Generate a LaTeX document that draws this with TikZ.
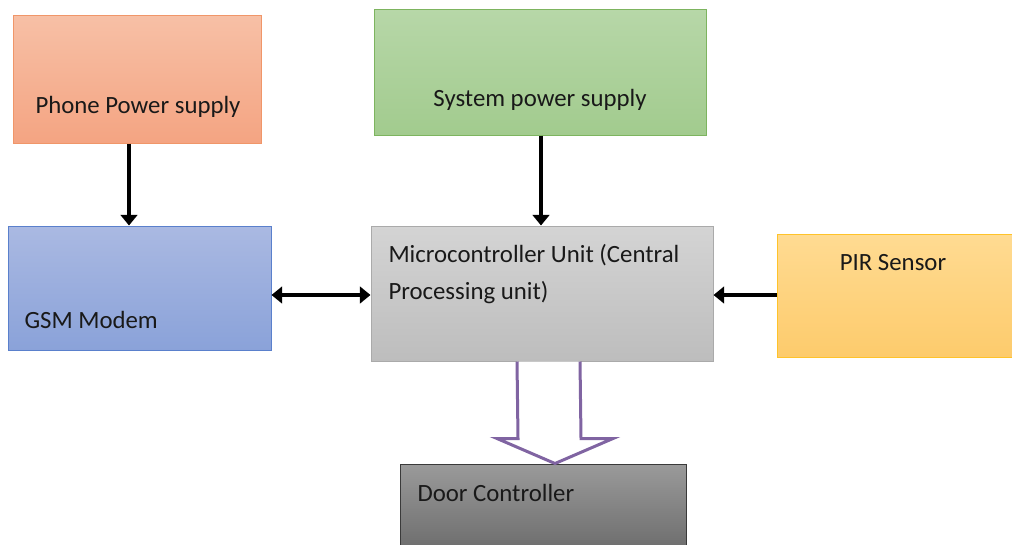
\documentclass[tikz,border=0pt]{standalone}
\usepackage{fontspec}
\setmainfont{Carlito}
\usetikzlibrary{arrows.meta,calc}

\definecolor{phoneTop}{RGB}{247,192,166}
\definecolor{phoneBot}{RGB}{244,164,130}
\definecolor{phoneLine}{RGB}{240,150,105}
\definecolor{sysTop}{RGB}{183,215,168}
\definecolor{sysBot}{RGB}{162,203,142}
\definecolor{sysLine}{RGB}{125,180,95}
\definecolor{gsmTop}{RGB}{170,185,226}
\definecolor{gsmBot}{RGB}{138,162,217}
\definecolor{gsmLine}{RGB}{90,128,204}
\definecolor{mcuTop}{RGB}{212,212,212}
\definecolor{mcuBot}{RGB}{189,189,189}
\definecolor{mcuLine}{RGB}{170,170,170}
\definecolor{pirTop}{RGB}{255,219,146}
\definecolor{pirBot}{RGB}{253,203,108}
\definecolor{pirLine}{RGB}{255,195,42}
\definecolor{doorTop}{RGB}{154,154,154}
\definecolor{doorBot}{RGB}{108,108,108}
\definecolor{doorLine}{RGB}{58,58,58}
\definecolor{outArrow}{RGB}{128,100,162}

\tikzset{every picture/.style={line width=0.75pt}}
\tikzset{
    blockbox/.style={draw, rectangle, inner sep=0pt},
    blocktext/.style={inner sep=0.75pt, text=black!90, font=\fontsize{18.6}{27.75}\selectfont, align=left},
    flowarrow/.style={line width=3pt, -{Triangle[length=8pt,width=12.5pt]}},
    bothways/.style={line width=3pt, {Triangle[length=8pt,width=12.5pt]}-{Triangle[length=8pt,width=12.5pt]}}
}

\begin{document}
\begin{tikzpicture}[x=0.75pt,y=0.75pt,yscale=-1,xscale=1]
        \useasboundingbox (0,0) rectangle (1012,544);

        %Blocks
        \node [blockbox, top color=phoneTop, bottom color=phoneBot, draw=phoneLine, minimum width=186pt, minimum height=96pt] (phone) at (137,79) {};
        \node [blockbox, top color=sysTop, bottom color=sysBot, draw=sysLine, minimum width=249pt, minimum height=94.5pt] (system) at (540,72) {};
        \node [blockbox, top color=gsmTop, bottom color=gsmBot, draw=gsmLine, minimum width=197.25pt, minimum height=93pt] (gsm) at (139.5,288) {};
        \node [blockbox, top color=mcuTop, bottom color=mcuBot, draw=mcuLine, minimum width=256.5pt, minimum height=101.25pt] (mcu) at (542,293.5) {};
        \node [blockbox, top color=pirTop, bottom color=pirBot, draw=pirLine, minimum width=180pt, minimum height=92.25pt] (pir) at (897,295.5) {};
        \node [blockbox, top color=doorTop, bottom color=doorBot, draw=doorLine, minimum width=214.5pt, minimum height=66pt] (door) at (543,508) {};

        % Text Nodes
        \node [blocktext] (phonelabel) at (138,107) {Phone Power supply};
        \node [blocktext] (systemlabel) at (540,100) {System power supply};
        \node [blocktext, anchor=west] (gsmlabel) at (23,320) {GSM Modem};
        \node [blocktext, anchor=north west] (mculabel) at (387,243) {Microcontroller Unit (Central\\Processing unit)};
        \node [blocktext] (pirlabel) at (893,263) {PIR Sensor};
        \node [blocktext, anchor=west] (doorlabel) at (416,493) {Door Controller};

        %Connectors
        \draw [flowarrow] (phone.south -| 129,0) -- (gsm.north -| 129,0);
        \draw [flowarrow] (system.south -| 541,0) -- (mcu.north -| 541,0);
        \draw [bothways] (gsm.east |- 0,295) -- (mcu.west |- 0,295);
        \draw [flowarrow] (pir.west |- 0,295) -- (mcu.east |- 0,295);

        %Hollow arrow to the door controller
        \draw [outArrow, line width=2.25pt, line join=miter, fill=white]
            ($(mcu.south)+(-25,0)$) -- ($(door.north)+(-25,-25)$) -- ($(door.north)+(-46,-25)$)
            -- ($(door.north)+(12,0)$) -- ($(door.north)+(70,-25)$) -- ($(door.north)+(38,-25)$)
            -- ($(mcu.south)+(38,0)$);
\end{tikzpicture}
\end{document}
